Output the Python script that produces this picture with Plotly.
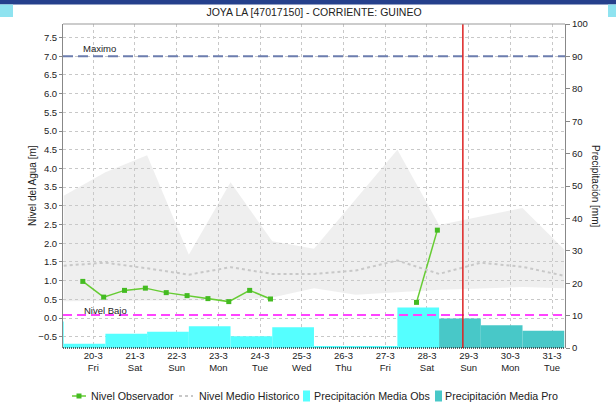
import plotly.graph_objects as go

# ---------------- data ----------------
TITLE = "JOYA LA [47017150] - CORRIENTE: GUINEO"
tick_dates = ["20-3", "21-3", "22-3", "23-3", "24-3", "25-3", "26-3", "27-3", "28-3", "29-3", "30-3", "31-3"]
tick_days = ["Fri", "Sat", "Sun", "Mon", "Tue", "Wed", "Thu", "Fri", "Sat", "Sun", "Mon", "Tue"]

# daily precipitation (UTC days), day index relative to 20-3
precip_obs_day = [-1, 0, 1, 2, 3, 4, 5, 6, 7, 8]
precip_obs = [8.2, 1.3, 4.4, 5.0, 6.7, 3.6, 6.4, 0.5, 0.5, 12.5]
precip_pro_day = [9, 10, 11]
precip_pro = [9.1, 7.0, 5.3]

# observed level, twice daily (06:00 and 18:00), from 20-3 to 28-3
obs_day = [0, 0, 1, 1, 2, 2, 3, 3, 4, 4, 5, 5, 6, 6, 7, 7, 8, 8]
obs_hour = [6, 18, 6, 18, 6, 18, 6, 18, 6, 18, 6, 18, 6, 18, 6, 18, 6, 18]
obs_level = [0.98, 0.56, 0.74, 0.80, 0.68, 0.60, 0.52, 0.44, 0.74, 0.51,
             None, None, None, None, None, None, 0.42, 2.35]

# historic statistics, one value per day (at 19:00 local), from 19-3 to 31-3
hist_day = [-1, 0, 1, 2, 3, 4, 5, 6, 7, 8, 9, 10, 11]
hist_max = [3.27, 3.90, 4.35, 1.69, 3.63, 2.05, 1.85, 3.17, 4.50, 2.49, 2.72, 2.94, 1.83]
hist_min = [0.45, 0.47, 0.47, 0.47, 0.48, 0.55, 0.80, 0.62, 0.68, 0.76, 0.79, 0.83, 0.80]
hist_mean = [1.40, 1.48, 1.33, 1.16, 1.36, 1.18, 1.18, 1.27, 1.54, 1.18, 1.48, 1.37, 1.13]

NIVEL_MAXIMO = 7.0
NIVEL_BAJO = 0.08
NOW_DAY, NOW_HOUR = 9, 8.67  # 29-3 ~08:40

UTC_OFFSET_H = 19  # local hour of UTC midnight

legend_names = ["Nivel Observador", "Nivel Medio Historico",
                "Precipitación Media Obs", "Precipitación Media Pro"]

# ---------------- layout geometry ----------------
W, H = 616, 404
ML, MR, MT, MB = 63, 51, 24, 56
PW, PH = W - ML - MR, H - MT - MB


def px_x(px):
    return (px - ML) / PW


def px_y(py):
    return (H - MB - py) / PH


def pos(day, hour):
    return day + hour / 24.0


tick_x = [pos(i, 12) for i in range(len(tick_dates))]
tick_text = [f"{d}<br>{w}" for d, w in zip(tick_dates, tick_days)]

bar_obs_x = [pos(d, UTC_OFFSET_H) - 0.5 for d in precip_obs_day]
bar_pro_x = [pos(d, UTC_OFFSET_H) - 0.5 for d in precip_pro_day]
hist_x = [pos(d, UTC_OFFSET_H) for d in hist_day]
obs_x = [pos(d, h) for d, h in zip(obs_day, obs_hour)]

FONT = "Liberation Sans, Arial, sans-serif"
GREEN_LINE, GREEN_MARK = "#66CC33", "#44BB22"
MEAN_COL = "#C8C8C8"
OBS_COL, PRO_COL = "#55FFFF", "#48C8C8"

fig = go.Figure()

# historic band
fig.add_trace(go.Scatter(x=hist_x, y=hist_min, mode="lines", line=dict(width=0),
                         showlegend=False, hoverinfo="skip"))
fig.add_trace(go.Scatter(x=hist_x, y=hist_max, mode="lines", line=dict(width=0),
                         fill="tonexty", fillcolor="rgba(205,205,205,0.32)",
                         showlegend=False, hoverinfo="skip"))

fig.add_trace(go.Scatter(x=obs_x, y=obs_level, mode="lines+markers", name=legend_names[0],
                         line=dict(color=GREEN_LINE, width=1.5),
                         marker=dict(color=GREEN_MARK, size=5, symbol="square"),
                         connectgaps=False, showlegend=False))
fig.add_trace(go.Scatter(x=hist_x, y=hist_mean, mode="lines", name=legend_names[1],
                         line=dict(color=MEAN_COL, width=2, dash="dot"), showlegend=False))

fig.add_trace(go.Bar(x=bar_obs_x, y=precip_obs, width=1.0, name=legend_names[2],
                     marker=dict(color=OBS_COL, line=dict(width=0)), yaxis="y2", showlegend=False))
fig.add_trace(go.Bar(x=bar_pro_x, y=precip_pro, width=1.0, name=legend_names[3],
                     marker=dict(color=PRO_COL, line=dict(width=0)), yaxis="y2", showlegend=False))

shapes = [
    dict(type="line", xref="paper", x0=0, x1=1, yref="y", y0=NIVEL_MAXIMO, y1=NIVEL_MAXIMO,
         line=dict(color="#6C7DAE", width=2, dash="10px,5px"), layer="above"),
    dict(type="line", xref="paper", x0=0, x1=1, yref="y", y0=NIVEL_BAJO, y1=NIVEL_BAJO,
         line=dict(color="#FF44FF", width=2, dash="9px,5px"), layer="above"),
    dict(type="line", xref="x", x0=pos(NOW_DAY, NOW_HOUR), x1=pos(NOW_DAY, NOW_HOUR),
         yref="paper", y0=0, y1=1, line=dict(color="#DD2222", width=1.5), layer="above"),
    # frame: bottom dotted, top solid
    dict(type="line", xref="paper", x0=0, x1=1, yref="paper", y0=0, y1=0,
         line=dict(color="#333333", width=1.5, dash="1px,1px"), layer="above"),
    dict(type="line", xref="paper", x0=0, x1=1, yref="paper", y0=1, y1=1,
         line=dict(color="#999999", width=1), layer="above"),
    # page header decoration
    dict(type="rect", xref="paper", yref="paper", x0=px_x(0), x1=px_x(W), y0=px_y(4.5), y1=px_y(-1),
         fillcolor="#25408C", line=dict(width=0), layer="above"),
    dict(type="rect", xref="paper", yref="paper", x0=px_x(0), x1=px_x(13), y0=px_y(17), y1=px_y(4.5),
         fillcolor="#8FE3F0", line=dict(width=0), layer="above"),
    dict(type="rect", xref="paper", yref="paper", x0=px_x(608), x1=px_x(W), y0=px_y(17), y1=px_y(4.5),
         fillcolor="#8FE3F0", line=dict(width=0), layer="above"),
]

# ---- legend (drawn below the plot) ----
LEG_Y = 396
shapes += [
    dict(type="line", xref="paper", yref="paper", x0=px_x(72), x1=px_x(86), y0=px_y(LEG_Y), y1=px_y(LEG_Y),
         line=dict(color=GREEN_LINE, width=1.5)),
    dict(type="rect", xref="paper", yref="paper", x0=px_x(76.5), x1=px_x(81.5),
         y0=px_y(LEG_Y + 2.5), y1=px_y(LEG_Y - 2.5), fillcolor=GREEN_MARK, line=dict(width=0)),
    dict(type="line", xref="paper", yref="paper", x0=px_x(179), x1=px_x(193), y0=px_y(LEG_Y), y1=px_y(LEG_Y),
         line=dict(color=MEAN_COL, width=2, dash="dot")),
    dict(type="rect", xref="paper", yref="paper", x0=px_x(303), x1=px_x(310),
         y0=px_y(LEG_Y + 5.5), y1=px_y(LEG_Y - 5.5), fillcolor=OBS_COL, line=dict(width=0)),
    dict(type="rect", xref="paper", yref="paper", x0=px_x(435), x1=px_x(442),
         y0=px_y(LEG_Y + 5.5), y1=px_y(LEG_Y - 5.5), fillcolor=PRO_COL, line=dict(width=0)),
]
legend_text_x = [89, 196.5, 311.5, 443]

annotations = [
    dict(text="Maximo", x=pos(0, 6.7), y=NIVEL_MAXIMO, xref="x", yref="y", xanchor="left", xshift=-3,
         yanchor="bottom", showarrow=False, font=dict(size=9.5, color="#222", family=FONT)),
    dict(text="Nivel Bajo", x=pos(0, 6.7), y=NIVEL_BAJO, xref="x", yref="y", xanchor="left", xshift=-2,
         yanchor="middle", yshift=5, showarrow=False, font=dict(size=9.5, color="#222", family=FONT)),
    dict(text="Nivel del Agua [m]", x=px_x(32), y=0.5, xref="paper", yref="paper", textangle=-90,
         xanchor="center", yanchor="middle",
         showarrow=False, font=dict(size=10, color="#222", family=FONT)),
    dict(text="Precipitación [mm]", x=px_x(596), y=0.5, xref="paper", yref="paper", textangle=90,
         xanchor="center", yanchor="middle",
         showarrow=False, font=dict(size=10, color="#222", family=FONT)),
]
for name, tx in zip(legend_names, legend_text_x):
    annotations.append(dict(text=name, x=px_x(tx), y=px_y(LEG_Y), xref="paper", yref="paper",
                            xanchor="left", yanchor="middle", showarrow=False,
                            font=dict(size=10.7, color="#222", family=FONT)))

fig.update_layout(
    width=W, height=H,
    margin=dict(l=ML, r=MR, t=MT, b=MB, autoexpand=False),
    paper_bgcolor="white", plot_bgcolor="white",
    font=dict(family=FONT, size=9.5, color="#222"),
    title=dict(text=TITLE, x=0.5, xref="paper", xanchor="center", y=1 - 12 / H, yanchor="middle",
               font=dict(size=10.5, color="#222", family=FONT)),
    xaxis=dict(range=[-0.225, 11.81], tickmode="array", tickvals=tick_x, ticktext=tick_text,
               showgrid=True, gridcolor="#C8C8C8", griddash="dot", gridwidth=1,
               zeroline=False, showline=False, ticks="", tickfont=dict(size=9.5)),
    yaxis=dict(range=[-0.80, 7.86], tick0=0, dtick=0.5, tickformat=".1f",
               showgrid=True, gridcolor="#C8C8C8", griddash="dot", gridwidth=1,
               zeroline=False, showline=True, linecolor="#888888", linewidth=1,
               ticks="outside", ticklen=3, tickcolor="#888888", tickfont=dict(size=9.5)),
    yaxis2=dict(range=[0, 100], dtick=10, overlaying="y", side="right",
                showgrid=False, zeroline=False, showline=True, linecolor="#888888", linewidth=1,
                ticks="outside", ticklen=4, tickcolor="#888888", tickfont=dict(size=9.5)),
    barmode="overlay",
    showlegend=False,
    shapes=shapes,
    annotations=annotations,
)

fig.write_html("out.html", config={"displayModeBar": False},
               post_script="document.body.style.margin='0';")
